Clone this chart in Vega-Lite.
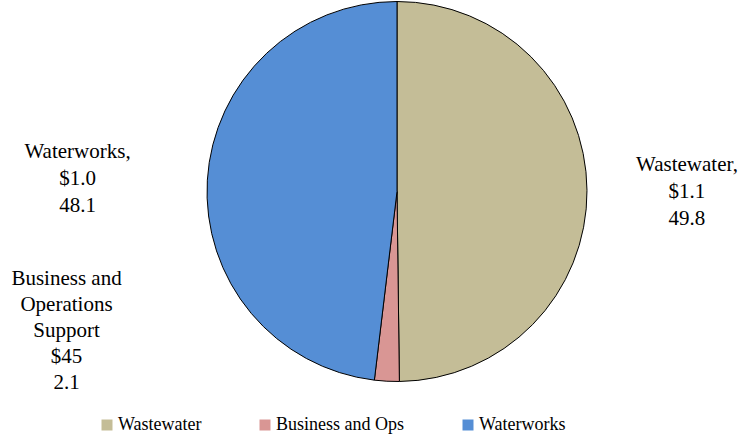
{
  "$schema": "https://vega.github.io/schema/vega-lite/v6.json",
  "width": 688,
  "height": 383,
  "autosize": "none",
  "padding": {"left": 53, "top": 0, "right": 0, "bottom": 54},
  "background": "white",
  "config": {"view": {"stroke": null}, "font": "Liberation Serif"},
  "data": {
    "values": [
      {"category": "Wastewater", "order": 1, "value": 49.8, "label": "Wastewater,\n$1.1\n  49.8"},
      {"category": "Business and Ops", "order": 2, "value": 2.1, "label": "Business and\nOperations\nSupport\n$45\n   2.1"},
      {"category": "Waterworks", "order": 3, "value": 48.1, "label": "Waterworks,\n$1.0\n 48.1"}
    ]
  },
  "layer": [
    {
      "mark": {"type": "arc", "outerRadius": 190, "stroke": "black", "strokeWidth": 1},
      "encoding": {
        "theta": {"field": "value", "type": "quantitative", "stack": true},
        "order": {"field": "order", "type": "quantitative"},
        "color": {
          "field": "category",
          "type": "nominal",
          "sort": ["Wastewater", "Business and Ops", "Waterworks"],
          "scale": {
            "domain": ["Wastewater", "Business and Ops", "Waterworks"],
            "range": ["#C4BD97", "#D99694", "#558ED5"]
          },
          "legend": {
            "title": null,
            "orient": "none",
            "legendX": 45,
            "legendY": 416,
            "direction": "horizontal",
            "columns": 3,
            "symbolType": "square",
            "symbolSize": 121,
            "symbolStrokeWidth": 0,
            "labelFont": "Liberation Serif",
            "labelFontSize": 18,
            "labelColor": "black",
            "labelOffset": 2,
            "columnPadding": 54,
            "labelLimit": 300
          }
        }
      }
    },
    {
      "transform": [
        {"stack": "value", "groupby": [], "sort": [{"field": "order"}], "as": ["v0", "v1"]},
        {"calculate": "(datum.v0 + datum.v1) / 2", "as": "mid"},
        {"filter": "datum.category == 'Wastewater'"}
      ],
      "mark": {"type": "text", "align": "center", "baseline": "middle", "lineBreak": "\n", "lineHeight": 27, "fontSize": 21, "font": "Liberation Serif", "color": "black", "dy": -25},
      "encoding": {
        "theta": {"field": "mid", "type": "quantitative", "stack": null},
        "radius": {"value": 290},
        "text": {"field": "label", "type": "nominal"}
      }
    },
    {
      "transform": [
        {"stack": "value", "groupby": [], "sort": [{"field": "order"}], "as": ["v0", "v1"]},
        {"calculate": "(datum.v0 + datum.v1) / 2", "as": "mid"},
        {"filter": "datum.category == 'Waterworks'"}
      ],
      "mark": {"type": "text", "align": "center", "baseline": "middle", "lineBreak": "\n", "lineHeight": 27, "fontSize": 21, "font": "Liberation Serif", "color": "black", "dy": -20},
      "encoding": {
        "theta": {"field": "mid", "type": "quantitative", "stack": null},
        "radius": {"value": 320},
        "text": {"field": "label", "type": "nominal"}
      }
    },
    {
      "transform": [
        {"stack": "value", "groupby": [], "sort": [{"field": "order"}], "as": ["v0", "v1"]},
        {"calculate": "(datum.v0 + datum.v1) / 2", "as": "mid"},
        {"filter": "datum.category == 'Business and Ops'"}
      ],
      "mark": {"type": "text", "align": "center", "baseline": "middle", "lineBreak": "\n", "lineHeight": 26, "fontSize": 21, "font": "Liberation Serif", "color": "black", "dx": -323, "dy": -52},
      "encoding": {
        "theta": {"field": "mid", "type": "quantitative", "stack": null},
        "radius": {"value": 140},
        "text": {"field": "label", "type": "nominal"}
      }
    }
  ]
}
